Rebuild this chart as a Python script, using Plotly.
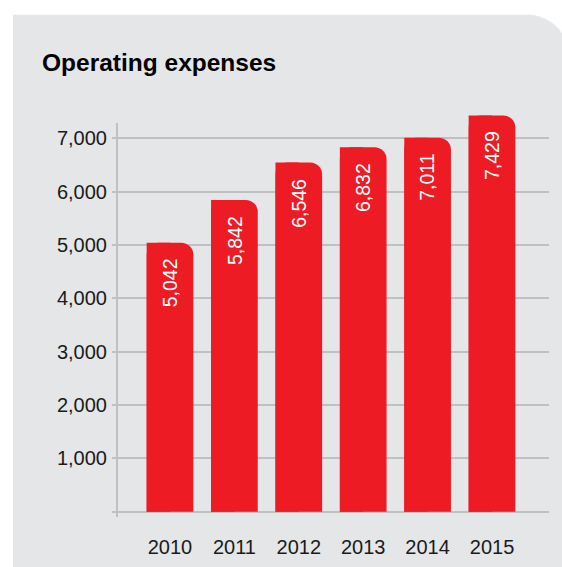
import numpy as np
import plotly.graph_objects as go

# Operating expenses by year
years = ["2010", "2011", "2012", "2013", "2014", "2015"]
expenses = [5042, 5842, 6546, 6832, 7011, 7429]
tick_values = [0, 1000, 2000, 3000, 4000, 5000, 6000, 7000]
tick_labels = ["", "1,000", "2,000", "3,000", "4,000", "5,000", "6,000", "7,000"]

RED = "#ed1c24"
PANEL = "#e5e6e8"
GRID = "#bfc0c2"
INK = "#1a1a1a"
FONT = "Liberation Sans, Arial, Helvetica, sans-serif"

W, H = 562, 567
ML, MR, MT, MB = 117, 13, 96, 50
PW, PH = W - ML - MR, H - MT - MB
Y_RANGE = [-100, -100 + PH / 53.33 * 1000]
BAR_W = 0.725

pos = list(range(len(years)))


def to_paper(px, py):
    return (px - ML) / PW, (H - MB - py) / PH


# Gray panel with a rounded top-right corner
cx, cy, r = 527.0, 57.3, 42.6
pts = [(13, H), (13, 14.7), (cx, 14.7)]
for a in np.linspace(np.pi / 2, 0, 24):
    pts.append((cx + r * np.cos(a), cy - r * np.sin(a)))
pts += [(cx + r, H)]
paper_pts = [to_paper(x, y) for x, y in pts]
panel_path = "M " + " L ".join(f"{x:.5f},{y:.5f}" for x, y in paper_pts) + " Z"

fig = go.Figure()

# Full-width bar with rounded top corners
fig.add_trace(go.Bar(
    x=pos, y=expenses, width=BAR_W,
    marker=dict(color=RED, line=dict(width=0), cornerradius=12),
    hoverinfo="skip",
))
# Left half with a square corner, so only the top-right corner stays rounded
fig.add_trace(go.Bar(
    x=[p - BAR_W / 4 for p in pos], y=expenses, width=BAR_W / 2,
    marker=dict(color=RED, line=dict(width=0), cornerradius=0),
    hoverinfo="skip",
))

annotations = []
for p, v in zip(pos, expenses):
    annotations.append(dict(
        x=p, y=v, xref="x", yref="y",
        text=f"{v:,}", showarrow=False, textangle=-90,
        xanchor="center", yanchor="top", yshift=-14,
        font=dict(family=FONT, size=19.5, color="white"),
    ))

shapes = [
    dict(type="path", path=panel_path, xref="paper", yref="paper",
         fillcolor=PANEL, line=dict(width=0), layer="below"),
    # vertical axis line
    dict(type="line", xref="paper", yref="y", x0=0, x1=0, y0=-100, y1=7290,
         line=dict(color=GRID, width=2), layer="below"),
]

fig.update_layout(
    width=W, height=H,
    margin=dict(l=ML, r=MR, t=MT, b=MB, pad=0, autoexpand=False),
    paper_bgcolor="white",
    plot_bgcolor="rgba(0,0,0,0)",
    barmode="overlay",
    showlegend=False,
    title=dict(
        text="<b>Operating expenses</b>",
        font=dict(family=FONT, size=24.5, color="black"),
        xref="container", yref="container",
        x=42 / W, xanchor="left",
        y=1 - 62 / H, yanchor="middle",
    ),
    xaxis=dict(
        range=[-0.823, 5.885], automargin=False,
        tickvals=pos, ticktext=years,
        showgrid=False, zeroline=False, showline=False, ticks="",
        tickfont=dict(family=FONT, size=20, color=INK),
        ticklabelstandoff=16,
    ),
    yaxis=dict(
        range=Y_RANGE, automargin=False,
        tickvals=tick_values, ticktext=tick_labels,
        showgrid=True, gridcolor=GRID, gridwidth=2,
        zeroline=False, showline=False,
        ticks="outside", ticklen=4, tickwidth=2, tickcolor=GRID,
        tickfont=dict(family=FONT, size=20, color=INK),
        ticklabelstandoff=1,
    ),
    shapes=shapes,
    annotations=annotations,
)

fig.write_html("out.html")
